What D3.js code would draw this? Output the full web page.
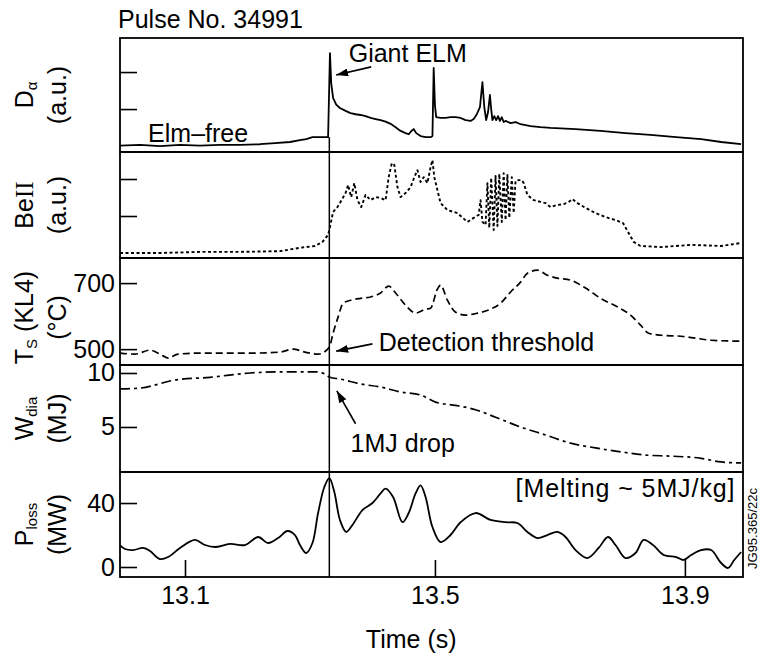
<!DOCTYPE html>
<html>
<head>
<meta charset="utf-8">
<script src="https://cdn.jsdelivr.net/npm/d3@7"></script>
<style>
	body { margin: 0; background: #fff; }
	svg { font-family: "Liberation Sans", Arial, Helvetica, sans-serif; }
</style>
</head>
<body>
<div id="chart"></div>
<script>
///////////////////////////////////////////////////////////////////////////
//////////////////////////// data /////////////////////////////////////////
///////////////////////////////////////////////////////////////////////////

// [time (s), value]
const dAlpha = [
	[12.996, 0.01], [13.028, 0.03], [13.060, 0.0], [13.092, 0.03], [13.124, 0.01],
	[13.156, 0.03], [13.188, 0.03], [13.220, 0.05], [13.244, 0.08], [13.268, 0.11],
	[13.284, 0.16], [13.294, 0.19], [13.304, 0.24], [13.313, 0.24], [13.323, 0.24],
	[13.329, 0.24], [13.332, 2.51], [13.334, 1.70], [13.337, 1.30], [13.342, 1.12],
	[13.348, 1.03], [13.357, 0.95], [13.365, 0.89], [13.373, 0.86], [13.381, 0.84],
	[13.389, 0.81], [13.397, 0.76], [13.405, 0.73], [13.413, 0.70], [13.421, 0.66],
	[13.429, 0.60], [13.437, 0.51], [13.445, 0.41], [13.453, 0.35], [13.458, 0.32],
	[13.462, 0.40], [13.466, 0.46], [13.470, 0.35], [13.477, 0.27], [13.485, 0.24],
	[13.493, 0.24], [13.496, 0.27], [13.498, 2.11], [13.500, 1.10], [13.502, 0.78],
	[13.509, 0.76], [13.517, 0.76], [13.525, 0.78], [13.533, 0.78], [13.541, 0.76],
	[13.549, 0.70], [13.557, 0.68], [13.562, 0.73], [13.567, 0.86], [13.572, 1.05],
	[13.576, 1.73], [13.579, 1.05], [13.582, 0.70], [13.585, 0.92], [13.588, 1.38],
	[13.590, 1.00], [13.592, 0.70], [13.595, 0.81], [13.598, 0.70], [13.601, 0.81],
	[13.604, 0.68], [13.607, 0.78], [13.610, 0.65], [13.613, 0.68], [13.621, 0.62],
	[13.629, 0.65], [13.637, 0.59], [13.653, 0.54], [13.669, 0.51], [13.685, 0.49],
	[13.725, 0.46], [13.765, 0.41], [13.805, 0.35], [13.845, 0.30], [13.886, 0.24],
	[13.926, 0.19], [13.958, 0.11], [13.990, 0.05]
];

const beII = [
	[12.996, 0.0], [13.060, 0.0], [13.124, 0.03], [13.188, 0.03], [13.252, 0.05],
	[13.284, 0.14], [13.308, 0.19], [13.320, 0.30], [13.329, 0.49], [13.332, 0.70],
	[13.337, 1.11], [13.344, 1.24], [13.348, 1.35], [13.357, 1.62], [13.361, 1.84],
	[13.366, 1.51], [13.371, 1.89], [13.376, 1.43], [13.382, 1.24], [13.389, 1.57],
	[13.397, 1.43], [13.405, 1.51], [13.413, 1.49], [13.421, 1.43], [13.426, 2.05],
	[13.431, 2.43], [13.435, 2.38], [13.440, 1.78], [13.445, 1.51], [13.453, 1.62],
	[13.461, 1.78], [13.467, 2.05], [13.472, 2.24], [13.477, 1.92], [13.482, 2.05],
	[13.488, 1.89], [13.493, 2.32], [13.496, 2.51], [13.499, 2.05], [13.504, 1.70],
	[13.509, 1.35], [13.520, 1.16], [13.536, 1.08], [13.552, 0.84], [13.562, 0.95],
	[13.570, 1.03], [13.573, 1.43], [13.576, 0.84], [13.581, 0.76], [13.584, 1.89],
	[13.587, 0.68], [13.590, 2.03], [13.594, 0.62], [13.597, 2.08], [13.600, 0.73],
	[13.603, 2.14], [13.607, 0.84], [13.610, 2.16], [13.613, 0.89], [13.616, 2.11],
	[13.619, 0.95], [13.623, 2.05], [13.626, 1.08], [13.629, 1.95], [13.634, 1.97],
	[13.639, 1.97], [13.642, 1.89], [13.648, 1.57], [13.658, 1.43], [13.669, 1.38],
	[13.677, 1.35], [13.685, 1.24], [13.696, 1.30], [13.706, 1.32], [13.714, 1.38],
	[13.720, 1.46], [13.728, 1.35], [13.741, 1.22], [13.757, 1.08], [13.773, 0.97],
	[13.789, 0.89], [13.801, 0.81], [13.809, 0.57], [13.818, 0.30], [13.829, 0.19],
	[13.862, 0.16], [13.910, 0.22], [13.958, 0.19], [13.990, 0.27]
];

const tsKL4 = [
	[12.996, 488], [13.020, 485], [13.044, 497], [13.060, 485], [13.073, 473],
	[13.089, 485], [13.124, 488], [13.204, 488], [13.252, 491], [13.273, 500],
	[13.292, 491], [13.313, 485], [13.331, 506], [13.337, 548], [13.345, 597],
	[13.353, 639], [13.365, 648], [13.381, 654], [13.397, 658], [13.413, 670],
	[13.426, 691], [13.437, 670], [13.453, 633], [13.469, 609], [13.485, 621],
	[13.493, 624], [13.504, 682], [13.509, 694], [13.520, 648], [13.533, 612],
	[13.549, 603], [13.568, 609], [13.589, 621], [13.605, 639], [13.621, 673],
	[13.637, 703], [13.648, 730], [13.664, 739], [13.680, 724], [13.696, 715],
	[13.717, 709], [13.741, 685], [13.765, 654], [13.793, 627], [13.813, 603],
	[13.829, 573], [13.842, 548], [13.862, 542], [13.894, 539], [13.918, 533],
	[13.942, 527], [13.990, 524]
];

const wDia = [
	[12.996, 8.52], [13.028, 8.6], [13.084, 9.35], [13.140, 9.6], [13.204, 10.0],
	[13.257, 10.1], [13.313, 10.1], [13.324, 9.9], [13.332, 9.6], [13.348, 9.44],
	[13.381, 8.98], [13.413, 8.7], [13.445, 8.24], [13.477, 7.96], [13.501, 7.3],
	[13.533, 7.0], [13.565, 6.6], [13.597, 5.9], [13.637, 5.0], [13.677, 4.26],
	[13.717, 3.5], [13.757, 3.06], [13.797, 2.7], [13.837, 2.4], [13.878, 2.3],
	[13.926, 2.1], [13.958, 1.76], [13.990, 1.67]
];

const pLoss = [
	[12.996, 13.75], [13.004, 11.25], [13.017, 10.6], [13.033, 11.9], [13.044, 10],
	[13.060, 5], [13.073, 6.25], [13.092, 11.9], [13.116, 16.9], [13.132, 13.75],
	[13.148, 12.5], [13.172, 14.4], [13.196, 13.75], [13.217, 18.75], [13.233, 15],
	[13.249, 18.1], [13.264, 22.5], [13.276, 20], [13.284, 13.75], [13.294, 8.75],
	[13.304, 15], [13.313, 33.75], [13.323, 50], [13.331, 55.6], [13.339, 46.9],
	[13.348, 29.4], [13.358, 21.9], [13.368, 26.25], [13.384, 35.6], [13.400, 40],
	[13.413, 46], [13.421, 49], [13.433, 43.75], [13.448, 28], [13.458, 33.75],
	[13.469, 46], [13.477, 51], [13.485, 43.75], [13.496, 25], [13.509, 15.6],
	[13.525, 20], [13.541, 28], [13.565, 33.75], [13.589, 29.4], [13.613, 28],
	[13.632, 27.5], [13.648, 21.9], [13.664, 18.1], [13.680, 20], [13.696, 21.9],
	[13.709, 18.75], [13.725, 10.6], [13.744, 5.6], [13.762, 11.9], [13.777, 18.75],
	[13.789, 13.75], [13.805, 5.6], [13.821, 8.75], [13.834, 16.9], [13.849, 13.75],
	[13.866, 7.5], [13.886, 6.25], [13.898, 4.4], [13.910, 7.5], [13.926, 10.6],
	[13.942, 10.6], [13.958, 2.5], [13.969, -0.6], [13.979, 4.4], [13.990, 9.4]
];

const timeTicks = [13.1, 13.5, 13.9];
const dAlphaTicks = [1, 2];
const beIITicks = [1, 2];
const tsTicks = [500, 700];
const wDiaTicks = [5, 10];
const pLossTicks = [0, 40];

const eventTime = 13.331; // giant ELM

///////////////////////////////////////////////////////////////////////////
//////////////////////////// Set up svg ///////////////////////////////////
///////////////////////////////////////////////////////////////////////////

const width = 761;
const height = 658;
const left = 120;
const right = 743;
const edges = [38, 152, 258, 365, 472, 577]; // panel borders, top to bottom
const fontSize = 25;

const svg = d3.select("#chart")
	.append("svg")
	.attr("width", width)
	.attr("height", height);

svg.append("defs")
	.append("marker")
	.attr("id", "arrow")
	.attr("viewBox", "0 0 12 8")
	.attr("refX", 12)
	.attr("refY", 4)
	.attr("markerUnits", "userSpaceOnUse")
	.attr("markerWidth", 12)
	.attr("markerHeight", 8)
	.attr("orient", "auto")
	.append("path")
	.attr("d", "M0,0 L12,4 L0,8 z")
	.attr("fill", "#000");

const x = d3.scaleLinear().domain([12.996, 13.993]).range([left, right]);

const panels = [
	{ data: dAlpha, domain: [-0.16, 2.92], ticks: dAlphaTicks, showLabels: false,
		dash: null, curve: d3.curveLinear, width: 1.8,
		title: ["D", "α"], unit: "(a.u.)" },
	{ data: beII, domain: [-0.135, 2.73], ticks: beIITicks, showLabels: false,
		dash: "3,2.5", curve: d3.curveLinear, width: 1.9,
		title: ["BeII", null], unit: "(a.u.)" },
	{ data: tsKL4, domain: [452, 776], ticks: tsTicks, showLabels: true,
		dash: "7,4", curve: d3.curveMonotoneX, width: 1.7,
		title: ["T", "S", " (KL4)"], unit: "(°C)" },
	{ data: wDia, domain: [0.83, 10.74], ticks: wDiaTicks, showLabels: true,
		dash: "10,4,3,4", curve: d3.curveMonotoneX, width: 1.7,
		title: ["W", "dia"], unit: "(MJ)" },
	{ data: pLoss, domain: [-6.25, 59.4], ticks: pLossTicks, showLabels: true,
		dash: null, curve: d3.curveCatmullRom.alpha(0.5), width: 1.8,
		title: ["P", "loss"], unit: "(MW)" }
];

///////////////////////////////////////////////////////////////////////////
//////////////////////////// panels ///////////////////////////////////////
///////////////////////////////////////////////////////////////////////////

panels.forEach((p, i) => {
	const top = edges[i];
	const bottom = edges[i + 1];
	p.y = d3.scaleLinear().domain(p.domain).range([bottom, top]);

	const g = svg.append("g").attr("class", "panel");

	// trace
	g.append("path")
		.datum(p.data)
		.attr("fill", "none")
		.attr("stroke", "#000")
		.attr("stroke-width", p.width)
		.attr("stroke-dasharray", p.dash)
		.attr("stroke-linejoin", "round")
		.attr("d", d3.line()
			.curve(p.curve)
			.x((d) => x(d[0]))
			.y((d) => p.y(d[1])));

	// left ticks point inwards
	const axis = d3.axisLeft(p.y)
		.tickValues(p.ticks)
		.tickSize(-17)
		.tickPadding(5);
	if (!p.showLabels) axis.tickFormat("");

	const ag = g.append("g")
		.attr("transform", `translate(${left},0)`)
		.call(axis);
	ag.select(".domain").remove();
	ag.selectAll("line").attr("stroke-width", 1.6);
	ag.selectAll("text")
		.attr("font-size", fontSize)
		.attr("font-family", "Liberation Sans, Arial, sans-serif")
		.attr("fill", "#000");

	// frame
	g.append("rect")
		.attr("x", left)
		.attr("y", top)
		.attr("width", right - left)
		.attr("height", bottom - top)
		.attr("fill", "none")
		.attr("stroke", "#000")
		.attr("stroke-width", 1.8);

	// y label, two rotated lines
	const cy = (top + bottom) / 2 + (i === 2 ? 6 : 0);
	const t1 = svg.append("text")
		.attr("transform", `translate(33,${cy}) rotate(-90)`)
		.attr("text-anchor", "middle")
		.attr("font-size", fontSize);
	if (p.title[0] === "BeII") {
		t1.append("tspan").text("Be");
		t1.append("tspan").attr("font-family", "Liberation Serif, serif").text("II");
	} else {
		t1.append("tspan").text(p.title[0]);
		t1.append("tspan").attr("font-size", 15).attr("dy", 4).text(p.title[1]);
		if (p.title[2]) t1.append("tspan").attr("dy", -4).text(p.title[2]);
	}
	svg.append("text")
		.attr("transform", `translate(66,${cy}) rotate(-90)`)
		.attr("text-anchor", "middle")
		.attr("font-size", fontSize)
		.text(p.unit);
});

///////////////////////////////////////////////////////////////////////////
//////////////////////////// axes /////////////////////////////////////////
///////////////////////////////////////////////////////////////////////////

const xg = svg.append("g")
	.attr("transform", `translate(0,${edges[5]})`)
	.call(d3.axisBottom(x)
		.tickValues(timeTicks)
		.tickSize(-17)
		.tickPadding(9)
		.tickFormat(d3.format(".1f")));
xg.select(".domain").remove();
xg.selectAll("line").attr("stroke-width", 1.6);
xg.selectAll("text")
	.attr("font-size", fontSize)
	.attr("font-family", "Liberation Sans, Arial, sans-serif")
	.attr("fill", "#000");

svg.append("text")
	.attr("x", x(13.462))
	.attr("y", 648)
	.attr("text-anchor", "middle")
	.attr("font-size", fontSize)
	.text("Time (s)");

// giant ELM marker line through all panels
svg.append("line")
	.attr("x1", x(eventTime))
	.attr("x2", x(eventTime))
	.attr("y1", panels[0].y(0.24))
	.attr("y2", edges[5])
	.attr("stroke", "#000")
	.attr("stroke-width", 1.5);

///////////////////////////////////////////////////////////////////////////
//////////////////////////// annotations //////////////////////////////////
///////////////////////////////////////////////////////////////////////////

svg.append("text")
	.attr("x", 118)
	.attr("y", 28)
	.attr("font-size", fontSize)
	.text("Pulse No. 34991");

const yDa = panels[0].y;
const yTs = panels[2].y;
const yW = panels[3].y;
const yP = panels[4].y;

svg.append("text")
	.attr("x", x(13.362))
	.attr("y", yDa(2.27))
	.attr("font-size", fontSize)
	.text("Giant ELM");

svg.append("text")
	.attr("x", x(13.041))
	.attr("y", yDa(0.11))
	.attr("font-size", fontSize)
	.text("Elm–free");

svg.append("text")
	.attr("x", x(13.410))
	.attr("y", yTs(494))
	.attr("font-size", fontSize)
	.text("Detection threshold");

svg.append("text")
	.attr("x", x(13.365))
	.attr("y", yW(2.69))
	.attr("font-size", fontSize)
	.text("1MJ drop");

svg.append("text")
	.attr("x", x(13.629))
	.attr("y", yP(44))
	.attr("font-size", fontSize)
	.attr("textLength", 219)
	.attr("lengthAdjust", "spacing")
	.text("[Melting ~ 5MJ/kg]");

svg.append("text")
	.attr("transform", `translate(757,${(edges[4] + edges[5]) / 2 + 4}) rotate(-90)`)
	.attr("text-anchor", "middle")
	.attr("font-size", 13)
	.text("JG95.365/22c");

// arrows: [from, to] in data units of their panel
const arrows = [
	[[13.398, yDa(2.14)], [13.342, yDa(1.92)]],
	[[13.400, yTs(516)], [13.342, yTs(494)]],
	[[13.373, yW(5.3)], [13.343, yW(8.35)]]
];
arrows.forEach((a) => {
	svg.append("line")
		.attr("x1", x(a[0][0]))
		.attr("y1", a[0][1])
		.attr("x2", x(a[1][0]))
		.attr("y2", a[1][1])
		.attr("stroke", "#000")
		.attr("stroke-width", 1.6)
		.attr("marker-end", "url(#arrow)");
});
</script>
</body>
</html>
